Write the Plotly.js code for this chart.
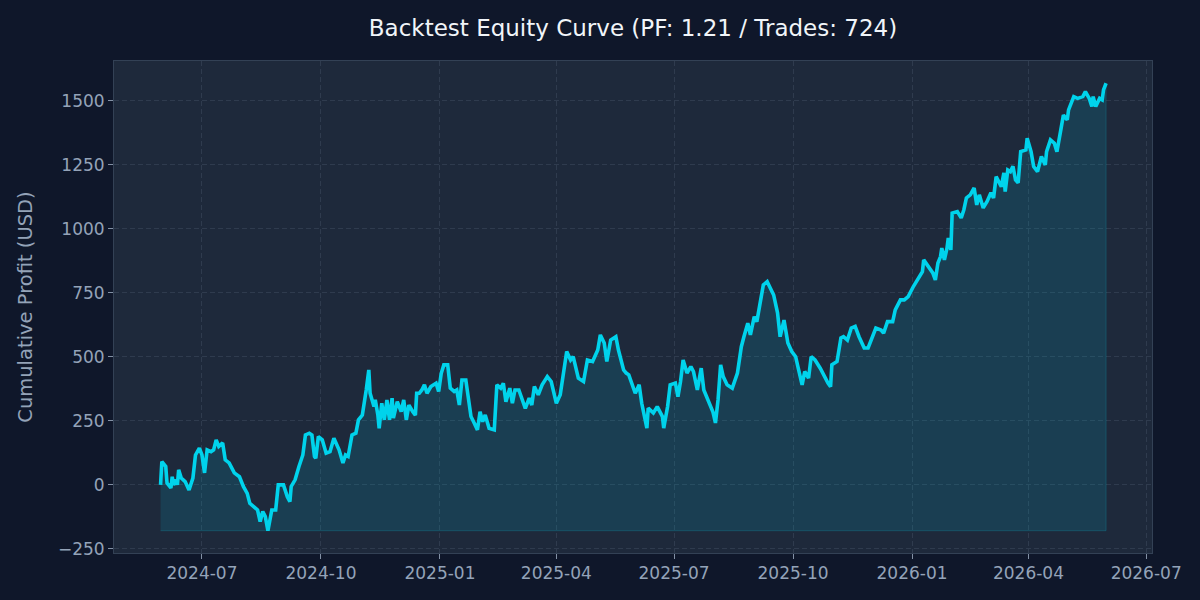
<!DOCTYPE html>
<html>
<head>
<meta charset="utf-8">
<script src="https://cdn.plot.ly/plotly-3.0.1.min.js"></script>
<style>
  html, body { margin: 0; padding: 0; background: #0f172a; }
  #chart { width: 1200px; height: 600px; }
</style>
</head>
<body>
<div id="chart"></div>
<script>
// ---- Data ----
const startDate = '2024-05-30';
const dayOffset = [
  0,1,4,5,8,9,10,12,13,14,16,19,22,25,27,30,32,34,36,39,41,43,45,48,50,53,57,61,64,67,69,72,75,77,79,81,83,86,89,91,95,98,100,101,104,107,110,112,115,117,119,120,122,125,128,131,134,138,141,143,145,148,151,153,156,159,161,162,165,166,168,169,171,173,175,177,179,180,183,186,188,190,192,195,197,198,200,202,204,206,209,213,215,217,219,222,224,227,229,231,233,236,240,242,245,247,249,251,254,258,260,263,265,267,270,272,274,277,280,282,285,287,289,292,295,299,302,304,306,309,312,314,317,319,323,327,330,334,338,340,343,345,348,352,354,357,358,360,362,367,370,372,376,377,381,384,388,389,392,394,398,400,402,404,407,410,412,415,418,420,424,427,429,431,433,435,438,442,446,449,451,454,456,459,461,464,466,469,472,474,477,479,482,485,488,491,493,496,498,501,503,506,510,513,516,518,519,523,526,528,531,534,537,540,544,547,550,553,557,559,562,566,568,572,575,578,582,585,589,590,594,597,599,601,603,604,606,608,609,611,612,616,619,621,623,626,629,631,633,636,639,642,644,646,650,652,653,655,657,659,661,663,665,669,670,673,675,678,681,684,685,688,691,693,696,698,701,702,706,709,713,715,718,720,721,723,726,728,729,731
];
const equity = [
  0,91,72,7,-12,32,0,20,0,59,27,13,-20,27,117,144,117,47,137,130,137,176,150,164,98,86,47,32,-6,-33,-72,-85,-98,-143,-104,-124,-179,-98,-98,0,0,-46,-65,-6,20,72,117,195,202,195,111,104,189,176,124,130,182,137,86,117,111,195,202,254,273,371,449,358,306,332,273,221,319,254,332,254,339,261,325,286,332,254,312,286,273,358,358,371,391,358,384,397,365,436,469,469,378,365,371,312,410,410,267,247,215,286,247,273,221,215,391,378,397,325,378,319,371,371,325,299,339,312,384,352,391,423,404,365,319,352,443,521,488,501,417,404,488,482,527,586,554,482,566,579,527,476,449,437,430,358,391,319,222,300,281,306,267,222,306,391,398,345,404,488,437,462,443,371,456,371,319,286,242,332,469,423,391,378,437,540,579,632,586,657,638,723,781,794,759,742,672,579,644,554,521,501,456,391,443,417,501,488,456,423,398,384,469,482,574,579,566,613,619,579,535,535,579,613,605,593,638,638,684,723,723,736,775,801,833,879,853,828,801,867,892,925,879,925,965,918,1062,1068,1043,1074,1121,1133,1160,1094,1133,1082,1107,1141,1121,1204,1165,1219,1146,1230,1224,1245,1191,1180,1302,1309,1354,1302,1244,1224,1283,1250,1302,1348,1335,1302,1387,1445,1426,1465,1517,1510,1517,1536,1510,1478,1517,1478,1510,1504,1543,1569
];
const chartTitle = 'Backtest Equity Curve (PF: 1.21 / Trades: 724)';
const yTitle = 'Cumulative Profit (USD)';

// ---- Build ----
const t0 = Date.parse(startDate + 'T00:00:00Z');
const dates = dayOffset.map(d => new Date(t0 + d * 86400000).toISOString().slice(0, 10));
const baseline = Math.min(...equity);

const fillX = dates.concat(dates.slice().reverse());
const fillY = equity.concat(equity.map(() => baseline));

const lineColor = '#00d3ec';

const traces = [
  {
    x: fillX, y: fillY, type: 'scatter', mode: 'lines',
    fill: 'toself', fillcolor: 'rgba(0,211,236,0.13)',
    line: { color: 'rgba(0,211,236,0.18)', width: 1 },
    hoverinfo: 'skip', showlegend: false
  },
  {
    x: dates, y: equity, type: 'scatter', mode: 'lines',
    line: { color: lineColor, width: 3.6 },
    showlegend: false
  }
];

const tickFont = { family: 'DejaVu Sans, sans-serif', size: 17, color: '#94a3b8' };
const gridColor = 'rgba(71,85,105,0.42)';

const layout = {
  width: 1200, height: 600,
  paper_bgcolor: '#0f172a',
  plot_bgcolor: '#1e293b',
  margin: { l: 114, r: 48, t: 61, b: 47 },
  title: {
    text: chartTitle,
    font: { family: 'DejaVu Sans, sans-serif', size: 23, color: '#f1f5f9' },
    x: 0.5, xref: 'paper', xanchor: 'center',
    y: 1 - 28 / 600, yref: 'container', yanchor: 'middle'
  },
  xaxis: {
    type: 'date',
    range: ['2024-04-24', '2026-07-05 12:00'],
    tick0: '2024-07-01', dtick: 'M3', tickformat: '%Y-%m',
    ticks: 'outside', ticklen: 5, tickwidth: 1, tickcolor: '#8391a5',
    tickfont: tickFont,
    showgrid: true, gridcolor: gridColor, griddash: '5px,3px', gridwidth: 1,
    showline: true, linecolor: '#334155', linewidth: 1, mirror: true,
    zeroline: false
  },
  yaxis: {
    range: [-266, 1656],
    tick0: 0, dtick: 250,
    ticks: 'outside', ticklen: 5, tickwidth: 1, tickcolor: '#8391a5',
    tickfont: tickFont,
    showgrid: true, gridcolor: gridColor, griddash: '5px,3px', gridwidth: 1,
    showline: true, linecolor: '#334155', linewidth: 1, mirror: true,
    zeroline: false,
    title: {
      text: yTitle,
      font: { family: 'DejaVu Sans, sans-serif', size: 19.5, color: '#94a3b8' },
      standoff: 20
    }
  },
  hovermode: false
};

Plotly.newPlot('chart', traces, layout, { staticPlot: true, displayModeBar: false });
</script>
</body>
</html>
